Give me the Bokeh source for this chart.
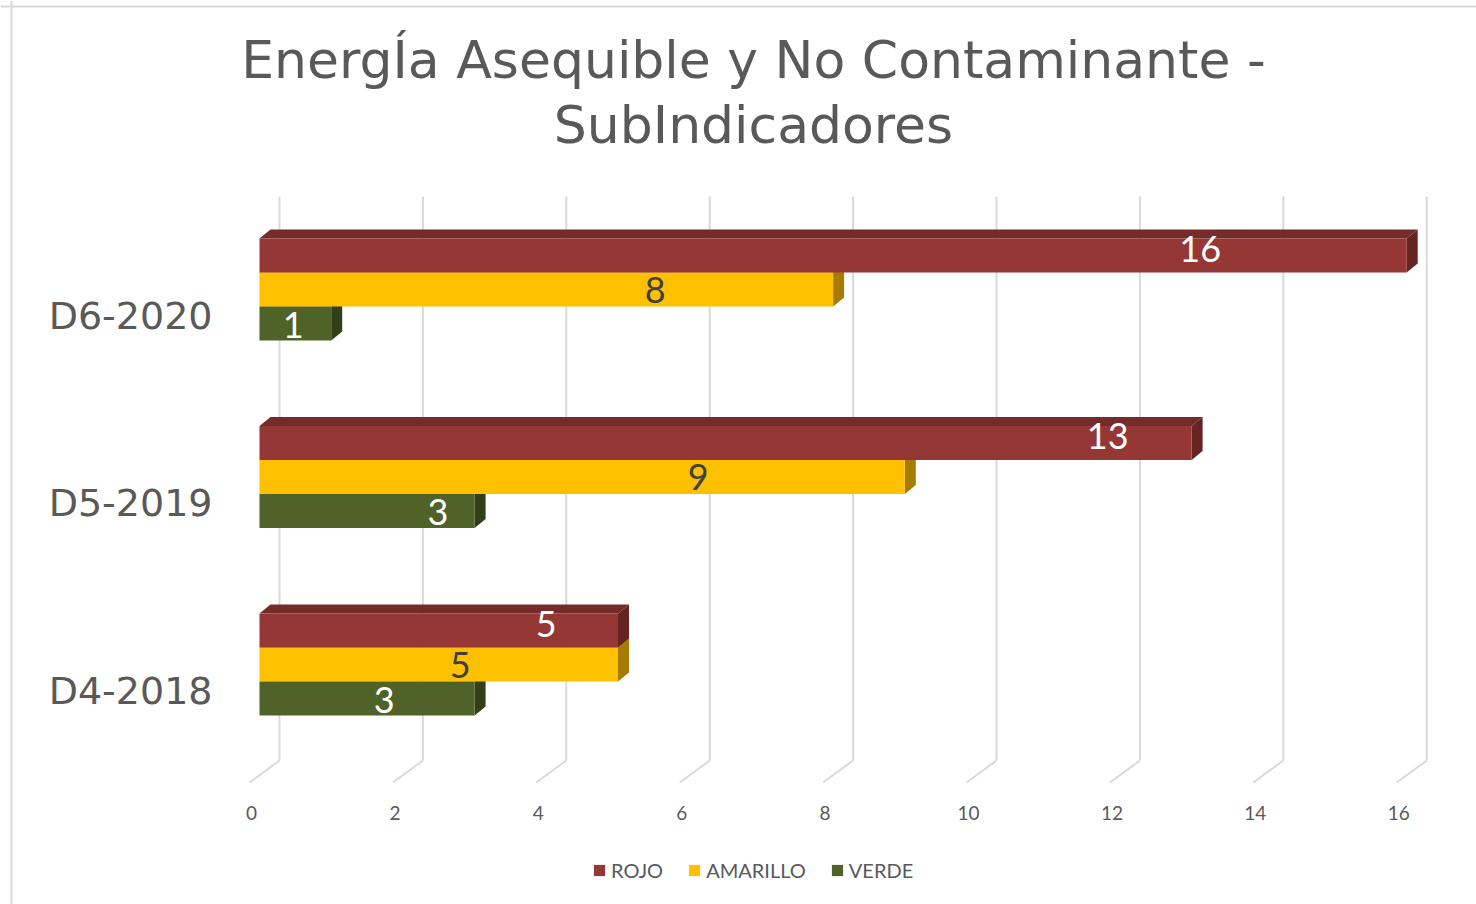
from bokeh.plotting import figure
from bokeh.models import Range1d, ColumnDataSource, Label, Legend, LegendItem, Span
from bokeh.core.properties import value
from bokeh.embed import file_html
from bokeh.resources import INLINE

# ---- data -------------------------------------------------------------
categories = ["D4-2018", "D5-2019", "D6-2020"]
series_names = ["ROJO", "AMARILLO", "VERDE"]
rojo = [5, 13, 16]
amarillo = [5, 9, 8]
verde = [3, 3, 1]
x_ticks = [0, 2, 4, 6, 8, 10, 12, 14, 16]

# ---- styling ------------------------------------------------------------
front_colors = {"ROJO": "#953735", "AMARILLO": "#FFC000", "VERDE": "#4F6228"}
top_colors = {"ROJO": "#742B29", "AMARILLO": "#B38600", "VERDE": "#3A481D"}
side_colors = {"ROJO": "#652422", "AMARILLO": "#A67C00", "VERDE": "#323F19"}
label_colors = {"ROJO": "white", "AMARILLO": "#404040", "VERDE": "white"}
# where along each bar the value label sits (fraction of bar length)
label_frac = {
    "ROJO": [0.80, 0.91, 0.82],
    "AMARILLO": [0.56, 0.68, 0.69],
    "VERDE": [0.58, 0.83, 0.47],
}
# vertical nudge of value labels, in pixels (positive = up)
label_lift = {"ROJO": 7, "AMARILLO": 0, "VERDE": -1}
TEXT = "#595959"
GRID = "#D9D9D9"

W, H = 1476, 904

# pixel geometry of the drawing: value 0 on the front plane, spacing of groups
PX_X = 71.7      # pixels per unit on the value axis
X0 = 259         # pixel column of value 0 (front face)
PX_Y = 187.5     # pixels between category groups
Y0 = 664         # pixel row of the first category


def sx(p):
    return (p - X0) / PX_X


def sy(p):
    return (Y0 - p) / PX_Y


def dx(p):
    return p / PX_X


def dy(p):
    return p / PX_Y


p = figure(
    width=W, height=H, output_backend="svg", toolbar_location=None,
    x_range=Range1d(sx(0), sx(W)), y_range=Range1d(sy(H), sy(0)),
    x_axis_location=None, y_axis_location=None, min_border=0,
)
p.grid.grid_line_color = None
p.outline_line_color = None
p.background_fill_color = "white"
p.border_fill_color = "white"

# chart-area border
p.add_layout(Span(location=sx(11), dimension="height", line_color=GRID, line_width=2))
p.add_layout(Span(location=sy(6), dimension="width", line_color=GRID, line_width=2))

# back-wall gridlines and floor edges
wall_x = [t + dx(20) for t in x_ticks]
p.segment(x0=wall_x, y0=[sy(760)] * len(x_ticks), x1=wall_x, y1=[sy(196)] * len(x_ticks),
          line_color=GRID, line_width=2)
p.segment(x0=wall_x, y0=[sy(760)] * len(x_ticks),
          x1=[t - dx(10) for t in x_ticks], y1=[sy(782)] * len(x_ticks),
          line_color=GRID, line_width=2)

# tick labels
p.text(x=[t - dx(8) for t in x_ticks], y=[sy(812)] * len(x_ticks),
       text=[str(t) for t in x_ticks], text_align="center", text_baseline="middle",
       text_font=value("Lato"), text_font_size="19px", text_color=TEXT)

# category labels
cat_y = list(range(len(categories)))
p.text(x=[sx(212)] * len(categories), y=[c - dy(26) for c in cat_y], text=categories,
       text_align="right", text_baseline="middle",
       text_font=value("DejaVu Sans"), text_font_size="38px", text_color=TEXT)

# ---- 3-D bars -------------------------------------------------------------
BH = dy(34)
DX, DY = dx(11), dy(9)
series = {"ROJO": rojo, "AMARILLO": amarillo, "VERDE": verde}
offset = {"ROJO": 1, "AMARILLO": 0, "VERDE": -1}

front_renderers = {}
for name in ["VERDE", "AMARILLO", "ROJO"]:
    vals = series[name]
    yc = [c + offset[name] * BH for c in cat_y]
    bottom = [y - BH / 2 for y in yc]
    top = [y + BH / 2 for y in yc]

    top_xs = [[0, v, v + DX, DX] for v in vals]
    top_ys = [[t, t, t + DY, t + DY] for t in top]
    p.patches(xs=top_xs, ys=top_ys, fill_color=top_colors[name], line_color=None)

    side_xs = [[v, v + DX, v + DX, v] for v in vals]
    side_ys = [[b, b + DY, t + DY, t] for b, t in zip(bottom, top)]
    p.patches(xs=side_xs, ys=side_ys, fill_color=side_colors[name], line_color=None)

    src = ColumnDataSource(dict(left=[0] * len(vals), right=vals, bottom=bottom, top=top))
    front_renderers[name] = p.quad(left="left", right="right", bottom="bottom", top="top",
                                   source=src, fill_color=front_colors[name], line_color=None)

# value labels
for name in ["VERDE", "AMARILLO", "ROJO"]:
    vals = series[name]
    yc = [c + offset[name] * BH + dy(label_lift[name]) for c in cat_y]
    p.text(x=[v * f for v, f in zip(vals, label_frac[name])], y=yc,
           text=[str(v) for v in vals], text_align="center", text_baseline="middle",
           text_font=value("Lato"), text_font_size="36px", text_color=label_colors[name])

# ---- title ----------------------------------------------------------------
for txt, base in [("EnergÍa Asequible y No Contaminante -", 59), ("SubIndicadores", 124)]:
    p.add_layout(Label(x=sx(753), y=sy(base), text=txt, text_align="center",
                       text_baseline="alphabetic", text_font="DejaVu Sans",
                       text_font_size="52px", text_color=TEXT))

# ---- legend -----------------------------------------------------------------
legend = Legend(
    items=[LegendItem(label=n, renderers=[front_renderers[n]]) for n in series_names],
    orientation="horizontal", location=(592, 22), glyph_width=14, glyph_height=14,
    label_standoff=5, spacing=24, padding=0, margin=0, border_line_color=None,
    background_fill_alpha=0, label_text_font="Lato", label_text_font_size="20px",
    label_text_color=TEXT,
)
p.add_layout(legend)

open("out.html", "w").write(file_html(p, INLINE))
